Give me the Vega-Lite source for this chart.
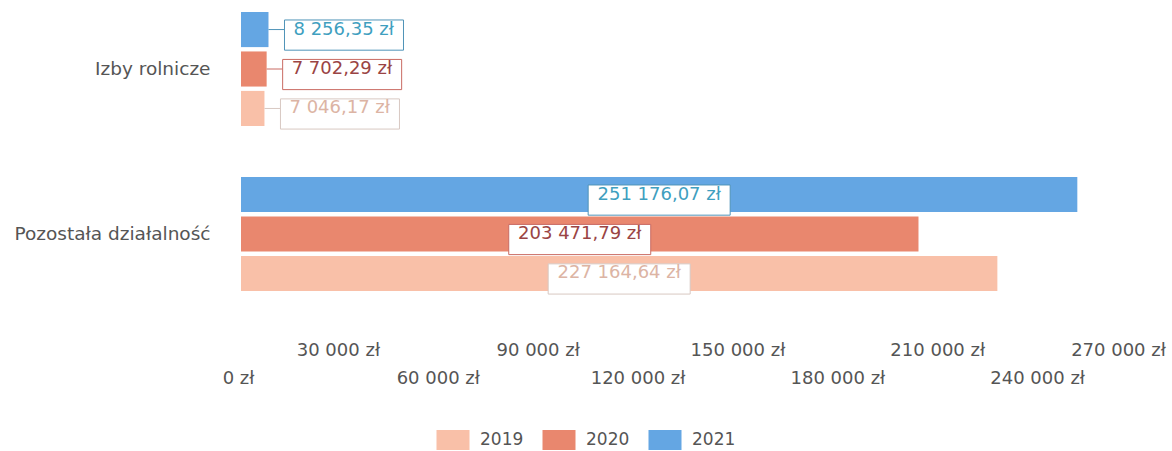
{
  "$schema": "https://vega.github.io/schema/vega-lite/v6.json",
  "width": 899,
  "height": 279,
  "autosize": "none",
  "padding": {"left": 241, "top": 12, "right": 32, "bottom": 160},
  "background": "white",
  "config": {
    "font": "DejaVu Sans",
    "view": {"stroke": null},
    "locale": {
      "number": {"decimal": ",", "thousands": " ", "grouping": [3], "currency": ["", " zł"]}
    }
  },
  "data": {
    "values": [
      {"cat": "Izby rolnicze", "year": "2021", "value": 8256.35},
      {"cat": "Izby rolnicze", "year": "2020", "value": 7702.29},
      {"cat": "Izby rolnicze", "year": "2019", "value": 7046.17},
      {"cat": "Pozostała działalność", "year": "2021", "value": 251176.07},
      {"cat": "Pozostała działalność", "year": "2020", "value": 203471.79},
      {"cat": "Pozostała działalność", "year": "2019", "value": 227164.64}
    ]
  },
  "encoding": {
    "y": {
      "field": "cat",
      "type": "nominal",
      "sort": ["Izby rolnicze", "Pozostała działalność"],
      "scale": {"paddingInner": 0.309, "paddingOuter": 0},
      "axis": {
        "title": null,
        "domain": false,
        "ticks": false,
        "labelFontSize": 18.5,
        "labelColor": "#555555",
        "labelPadding": 31,
        "labelLimit": 400
      }
    },
    "yOffset": {
      "field": "year",
      "type": "nominal",
      "sort": ["2021", "2020", "2019"],
      "scale": {"paddingInner": 0.11, "paddingOuter": 0}
    }
  },
  "layer": [
    {
      "mark": {"type": "bar"},
      "encoding": {
        "x": {
          "field": "value",
          "type": "quantitative",
          "scale": {"domain": [0, 270000], "nice": false},
          "axis": {
            "title": null,
            "values": [0, 30000, 60000, 90000, 120000, 150000, 180000, 210000, 240000, 270000],
            "format": "$,.0f",
            "domain": false,
            "ticks": false,
            "grid": false,
            "labelFontSize": 18,
            "labelColor": "#555555",
            "labelBaseline": "middle",
            "labelOverlap": false,
            "labelFlush": false,
            "labelPadding": {"condition": {"test": "datum.value % 60000 === 0", "value": 87}, "value": 59},
            "labelOffset": {"condition": {"test": "datum.value === 270000", "value": -22}, "value": -3}
          }
        },
        "color": {
          "field": "year",
          "type": "nominal",
          "scale": {"domain": ["2019", "2020", "2021"], "range": ["#f9c0a8", "#e9876e", "#64a6e3"]},
          "legend": {
            "title": null,
            "orient": "none",
            "direction": "horizontal",
            "legendX": 202,
            "legendY": 418,
            "padding": 0,
            "symbolType": "M-1.65,-1H1.65V1H-1.65Z",
            "symbolSize": 400,
            "symbolStrokeWidth": 0,
            "symbolOpacity": 1,
            "labelFontSize": 17,
            "labelColor": "#555555",
            "labelOffset": 17,
            "columnPadding": 18
          }
        }
      }
    },
    {
      "transform": [{"filter": "datum.cat === 'Izby rolnicze'"}],
      "mark": {"type": "rule", "x2Offset": 16, "strokeWidth": 1},
      "encoding": {
        "x": {"field": "value", "type": "quantitative"},
        "x2": {"field": "value"},
        "stroke": {
          "field": "year",
          "type": "nominal",
          "scale": {"domain": ["2019", "2020", "2021"], "range": ["#d8c8c2", "#c96a62", "#4f93b8"]},
          "legend": null
        }
      }
    },
    {
      "transform": [{"filter": "datum.cat === 'Izby rolnicze'"}],
      "mark": {"type": "bar", "xOffset": 16, "x2Offset": 135, "fill": "white", "strokeWidth": 1, "height": {"band": 0.86}},
      "encoding": {
        "x": {"field": "value", "type": "quantitative"},
        "x2": {"field": "value"},
        "stroke": {"field": "year", "type": "nominal", "legend": null}
      }
    },
    {
      "transform": [{"filter": "datum.cat === 'Izby rolnicze'"}],
      "mark": {"type": "text", "align": "left", "baseline": "middle", "dx": 25, "fontSize": 18},
      "encoding": {
        "x": {"field": "value", "type": "quantitative"},
        "text": {"field": "value", "type": "quantitative", "format": "$,.2f"},
        "fill": {
          "field": "year",
          "type": "nominal",
          "scale": {"domain": ["2019", "2020", "2021"], "range": ["#dcb4a4", "#9a4444", "#3f9fbf"]},
          "legend": null
        }
      }
    },
    {
      "transform": [
        {"filter": "datum.cat === 'Pozostała działalność'"},
        {"calculate": "datum.value / 2", "as": "mid"}
      ],
      "mark": {"type": "bar", "xOffset": -71, "x2Offset": 71, "fill": "white", "strokeWidth": 1, "height": {"band": 0.86}},
      "encoding": {
        "x": {"field": "mid", "type": "quantitative"},
        "x2": {"field": "mid"},
        "stroke": {"field": "year", "type": "nominal", "legend": null}
      }
    },
    {
      "transform": [
        {"filter": "datum.cat === 'Pozostała działalność'"},
        {"calculate": "datum.value / 2", "as": "mid"}
      ],
      "mark": {"type": "text", "align": "center", "baseline": "middle", "fontSize": 18},
      "encoding": {
        "x": {"field": "mid", "type": "quantitative"},
        "text": {"field": "value", "type": "quantitative", "format": "$,.2f"},
        "fill": {"field": "year", "type": "nominal", "legend": null}
      }
    }
  ]
}
